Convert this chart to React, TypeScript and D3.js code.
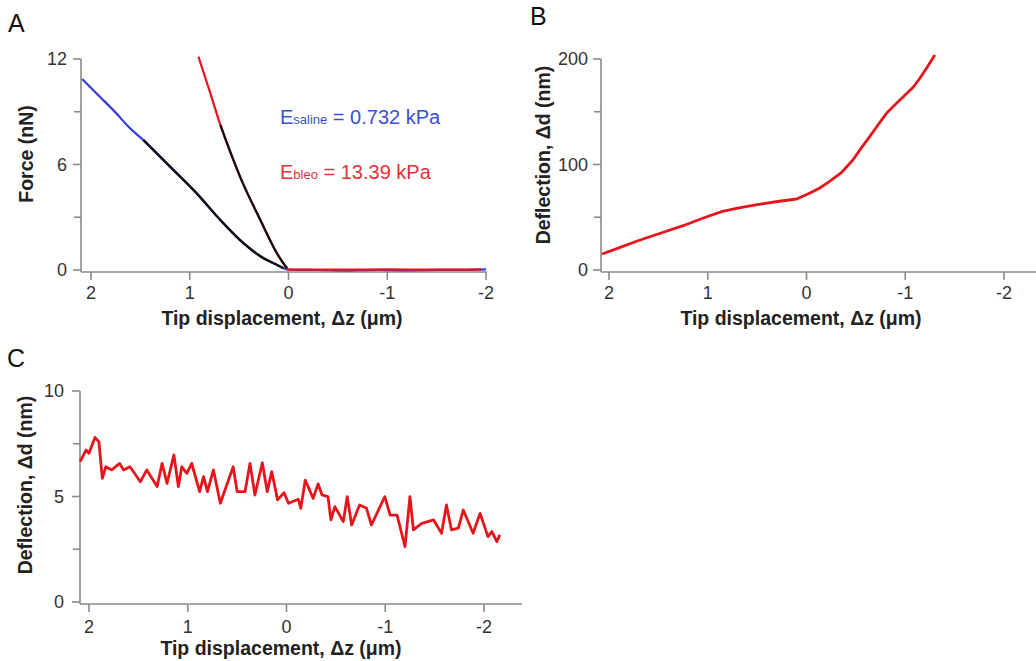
import React from "react";
import * as d3 from "d3";

// ---------- DATA ----------
const xTicks = [2, 1, 0, -1, -2];

// Panel A: force curves
const salineX = [2.09, 1.9, 1.75, 1.605, 1.47, 1.2, 0.93, 0.69, 0.455, 0.25, 0.12, 0.05, 0.0, -0.3, -0.6, -0.9, -1.2, -1.5, -1.8, -2.0];
const salineF = [10.86, 9.8, 8.95, 8.06, 7.39, 5.88, 4.36, 2.84, 1.52, 0.66, 0.3, 0.1, 0.02, 0.0, -0.03, 0.0, -0.02, 0.01, 0.0, 0.03];
const salineFitX = [1.47, 1.2, 0.93, 0.69, 0.455, 0.25, 0.12, 0.05];
const salineFitF = [7.39, 5.88, 4.36, 2.84, 1.52, 0.66, 0.3, 0.1];
const bleoX = [0.912, 0.8, 0.69, 0.49, 0.285, 0.117, 0.015, 0.0, -0.5, -1.0, -1.5, -1.95];
const bleoF = [12.13, 10.2, 8.25, 5.3, 2.84, 0.95, 0.1, 0.02, 0.02, 0.03, 0.02, 0.03];
const bleoFitX = [0.69, 0.49, 0.285, 0.117, 0.015];
const bleoFitF = [8.25, 5.3, 2.84, 0.95, 0.1];
const forceTicks = [0, 6, 12];
const forceMinor = [3, 9];

// Panel B: deflection (bleo)
const bX = [2.07, 1.9, 1.7, 1.48, 1.25, 1.01, 0.85, 0.71, 0.5, 0.31, 0.1, -0.03, -0.13, -0.23, -0.35, -0.47, -0.55, -0.64, -0.72, -0.81, -0.9, -0.98, -1.08, -1.15, -1.22, -1.3];
const bY = [15.2, 21, 28, 34.8, 42, 50.5, 55.5, 58.5, 62, 64.7, 67.3, 72.7, 77.5, 83.7, 92, 104.3, 115, 126.4, 137, 148.5, 157, 164.3, 173.2, 182, 192, 203.8];
const bTicks = [0, 100, 200];
const bMinor = [50, 150];

// Panel C: deflection (saline)
const cX = [2.09, 2.064, 2.03, 2.0, 1.94, 1.9, 1.865, 1.83, 1.77, 1.69, 1.65, 1.585, 1.48, 1.415, 1.31, 1.26, 1.21, 1.14, 1.095, 1.06, 1.01, 0.96, 0.88, 0.84, 0.8, 0.74, 0.67, 0.54, 0.5, 0.42, 0.37, 0.32, 0.245, 0.195, 0.15, 0.09, 0.025, -0.02, -0.12, -0.145, -0.19, -0.27, -0.32, -0.36, -0.42, -0.45, -0.49, -0.575, -0.615, -0.66, -0.74, -0.81, -0.86, -0.995, -1.05, -1.12, -1.2, -1.25, -1.285, -1.37, -1.49, -1.57, -1.62, -1.67, -1.74, -1.79, -1.89, -1.96, -2.04, -2.08, -2.13, -2.16];
const cY = [6.65, 6.89, 7.2, 7.05, 7.8, 7.6, 5.86, 6.41, 6.26, 6.57, 6.26, 6.41, 5.7, 6.26, 5.47, 6.57, 5.62, 6.97, 5.47, 6.41, 6.1, 6.57, 5.23, 5.94, 5.23, 6.26, 4.68, 6.41, 5.23, 5.23, 6.57, 5.07, 6.6, 5.23, 6.18, 4.84, 5.18, 4.68, 4.87, 4.44, 5.78, 4.91, 5.6, 5.07, 4.99, 3.89, 4.52, 3.81, 4.99, 3.65, 4.6, 4.44, 3.65, 4.99, 4.12, 4.12, 2.62, 4.99, 3.42, 3.73, 3.89, 3.26, 4.6, 3.42, 3.5, 4.36, 3.26, 4.2, 3.1, 3.34, 2.86, 3.18];
const cTicks = [0, 5, 10];
const cMinor = [2.5, 7.5];

// ---------- STYLE ----------
const FONT = "'Liberation Sans', Arial, Helvetica, sans-serif";
const AXIS = "#8a8a8a";
const TXT = "#333";
const RED = "#e8141c";
const BLUE = "#2e3ede";

type PanelProps = {
  x: d3.ScaleLinear<number, number>;
  y: d3.ScaleLinear<number, number>;
  xAxisStart: number;
  xAxisEnd: number;
  yAxisTop: number;
  axisY: number;
  yTicks: number[];
  yMinor: number[];
  yLabelGap: number;
  yTitle: string;
  yTitleX: number;
  yTitleY: number;
  xTitleX: number;
  xTitleY: number;
  xLabelY: number;
};

function Axes(p: PanelProps) {
  const ax = p.xAxisStart;
  return (
    <g fontFamily={FONT}>
      <line x1={ax} x2={p.xAxisEnd} y1={p.axisY} y2={p.axisY} stroke={AXIS} strokeWidth={1.6} />
      <line x1={ax} x2={ax} y1={p.yAxisTop} y2={p.axisY} stroke={AXIS} strokeWidth={1.6} />
      {xTicks.map((t) => (
        <g key={"xt" + t}>
          <line x1={p.x(t)} x2={p.x(t)} y1={p.axisY} y2={p.axisY + 8} stroke={AXIS} strokeWidth={1.6} />
          <text x={p.x(t)} y={p.xLabelY} textAnchor="middle" fontSize={18} fill={TXT}>
            {t < 0 ? "-" + Math.abs(t) : String(t)}
          </text>
        </g>
      ))}
      {p.yTicks.map((t) => (
        <g key={"yt" + t}>
          <line x1={ax - 8} x2={ax} y1={p.y(t)} y2={p.y(t)} stroke={AXIS} strokeWidth={1.6} />
          <text x={ax - p.yLabelGap} y={p.y(t)} dy="0.36em" textAnchor="end" fontSize={18} fill={TXT}>
            {t}
          </text>
        </g>
      ))}
      {p.yMinor.map((t) => (
        <line key={"ym" + t} x1={ax - 7} x2={ax} y1={p.y(t)} y2={p.y(t)} stroke={AXIS} strokeWidth={1.6} />
      ))}
      <text x={p.xTitleX} y={p.xTitleY} textAnchor="middle" fontSize={19.5} fontWeight="bold" fill="#222">
        Tip displacement, Δz (μm)
      </text>
      <text
        transform={`translate(${p.yTitleX},${p.yTitleY}) rotate(-90)`}
        textAnchor="middle"
        dy="0.36em"
        fontSize={19.5}
        fontWeight="bold"
        fill="#222"
      >
        {p.yTitle}
      </text>
    </g>
  );
}

function pathFrom(xs: number[], ys: number[], x: d3.ScaleLinear<number, number>, y: d3.ScaleLinear<number, number>) {
  const pts: [number, number][] = xs.map((v, i) => [v, ys[i]]);
  return d3
    .line<[number, number]>()
    .x((d) => x(d[0]))
    .y((d) => y(d[1]))
    .curve(d3.curveMonotoneX)(pts) as string;
}

function linearPath(xs: number[], ys: number[], x: d3.ScaleLinear<number, number>, y: d3.ScaleLinear<number, number>) {
  const pts: [number, number][] = xs.map((v, i) => [v, ys[i]]);
  return d3
    .line<[number, number]>()
    .x((d) => x(d[0]))
    .y((d) => y(d[1]))(pts) as string;
}

export default function App() {
  // Panel A
  const xA = d3.scaleLinear().domain([2, -2]).range([91, 486]);
  const yA = d3.scaleLinear().domain([0, 12]).range([270, 59]);
  // Panel B
  const xB = d3.scaleLinear().domain([2, -2]).range([609, 1004]);
  const yB = d3.scaleLinear().domain([0, 200]).range([270, 59]);
  // Panel C
  const xC = d3.scaleLinear().domain([2, -2]).range([89, 484]);
  const yC = d3.scaleLinear().domain([0, 10]).range([602, 391]);

  return (
    <svg width={1036} height={661} style={{ position: "absolute", left: 0, top: 0, background: "#fff" }}>
      <rect x={0} y={0} width={1036} height={661} fill="#fff" />
      {/* Panel labels */}
      <text x={8} y={32} fontFamily={FONT} fontSize={25} fill="#111">A</text>
      <text x={530} y={25} fontFamily={FONT} fontSize={25} fill="#111">B</text>
      <text x={7} y={367} fontFamily={FONT} fontSize={25} fill="#111">C</text>

      {/* Panel A */}
      <Axes
        x={xA}
        y={yA}
        xAxisStart={81}
        xAxisEnd={487}
        yAxisTop={59}
        axisY={272}
        yTicks={forceTicks}
        yMinor={forceMinor}
        yLabelGap={14}
        yTitle="Force (nN)"
        yTitleX={26}
        yTitleY={154}
        xTitleX={282}
        xTitleY={325}
        xLabelY={299}
      />
      <path d={pathFrom(salineX, salineF, xA, yA)} fill="none" stroke={BLUE} strokeWidth={2.2} />
      <path d={pathFrom(bleoX, bleoF, xA, yA)} fill="none" stroke={RED} strokeWidth={2.2} />
      <path d={pathFrom(salineFitX, salineFitF, xA, yA)} fill="none" stroke="#111" strokeWidth={2.4} />
      <path d={pathFrom(bleoFitX, bleoFitF, xA, yA)} fill="none" stroke="#111" strokeWidth={2.2} />
      <text x={280} y={124} fontFamily={FONT} fontSize={20} fill="#3b4fd4">
        E<tspan fontSize={13}>saline</tspan> = 0.732 kPa
      </text>
      <text x={280} y={179} fontFamily={FONT} fontSize={20} fill="#e0323a">
        E<tspan fontSize={13}>bleo</tspan> = 13.39 kPa
      </text>

      {/* Panel B */}
      <Axes
        x={xB}
        y={yB}
        xAxisStart={601}
        xAxisEnd={1036}
        yAxisTop={59}
        axisY={272}
        yTicks={bTicks}
        yMinor={bMinor}
        yLabelGap={13}
        yTitle="Deflection, Δd (nm)"
        yTitleX={543}
        yTitleY={155}
        xTitleX={801}
        xTitleY={325}
        xLabelY={299}
      />
      <path d={linearPath(bX, bY, xB, yB)} fill="none" stroke={RED} strokeWidth={2.8} strokeLinejoin="round" />

      {/* Panel C */}
      <Axes
        x={xC}
        y={yC}
        xAxisStart={80}
        xAxisEnd={522}
        yAxisTop={391}
        axisY={604}
        yTicks={cTicks}
        yMinor={cMinor}
        yLabelGap={16}
        yTitle="Deflection, Δd (nm)"
        yTitleX={25}
        yTitleY={485}
        xTitleX={281}
        xTitleY={655}
        xLabelY={633}
      />
      <path d={linearPath(cX, cY, xC, yC)} fill="none" stroke={RED} strokeWidth={2.8} strokeLinejoin="round" />
    </svg>
  );
}
